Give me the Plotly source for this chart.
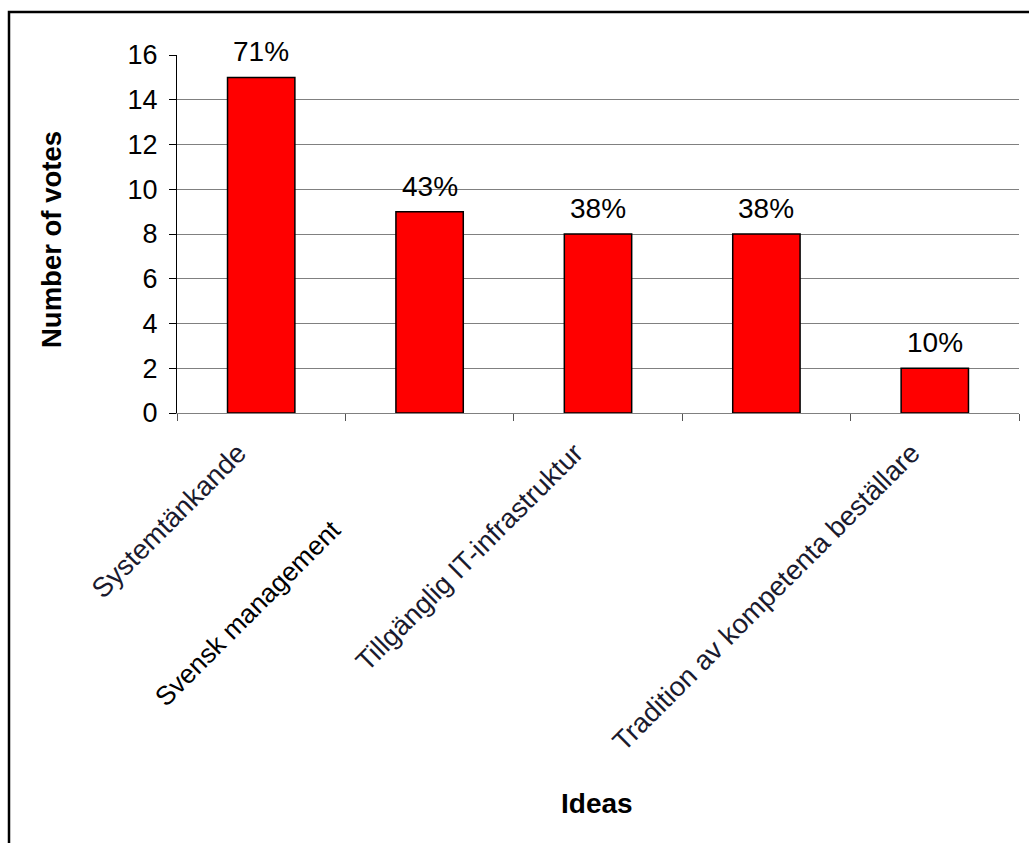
import plotly.graph_objects as go

categories = ["Systemtänkande", "Svensk management", "Tillgänglig IT-infrastruktur",
              "Idé 4", "Tradition av kompetenta beställare"]
votes = [15, 9, 8, 8, 2]
percent_labels = ["71%", "43%", "38%", "38%", "10%"]
tick_labels = ["Systemtänkande", "", "Tillgänglig IT-infrastruktur", "",
               "Tradition av kompetenta beställare"]
y_ticks = [0, 2, 4, 6, 8, 10, 12, 14, 16]

W, H = 1029, 843
L, R, T, B = 177, 10, 55, 430
pw, ph = W - L - R, H - T - B

def px(x):
    return (x - L) / pw

def py(y):
    return (H - B - y) / ph

FONT = "Liberation Sans, Arial, sans-serif"

fig = go.Figure()
fig.add_trace(go.Bar(
    x=categories, y=votes,
    marker=dict(color="#FF0000", line=dict(color="black", width=1.5)),
    hoverinfo="skip",
))

annotations = []
for c, v, t in zip(categories, votes, percent_labels):
    annotations.append(dict(x=c, y=v, xref="x", yref="y", text=t, showarrow=False,
                            yanchor="bottom", yshift=8,
                            font=dict(family=FONT, size=28, color="black")))

annotations.append(dict(x=px(52), y=py(240), xref="paper", yref="paper",
                        xanchor="center", yanchor="middle",
                        text="<b>Number of votes</b>", textangle=-90, showarrow=False,
                        font=dict(family=FONT, size=27.5, color="black")))
annotations.append(dict(x=px(597), y=py(803), xref="paper", yref="paper",
                        xanchor="center", yanchor="middle",
                        text="<b>Ideas</b>", showarrow=False,
                        font=dict(family=FONT, size=28, color="black")))
annotations.append(dict(x=px(248), y=py(613), xref="paper", yref="paper",
                        xanchor="center", yanchor="middle",
                        text="Svensk management", textangle=-45, showarrow=False,
                        font=dict(family=FONT, size=26.5, color="black")))

fig.update_layout(
    width=W, height=H,
    margin=dict(l=L, r=R, t=T, b=B),
    paper_bgcolor="white", plot_bgcolor="white",
    showlegend=False,
    bargap=0.6,
    font=dict(family=FONT, size=26, color="black"),
    annotations=annotations,
    shapes=[dict(type="rect", xref="paper", yref="paper",
                 x0=px(9), x1=px(1045), y0=py(870), y1=py(12),
                 line=dict(color="black", width=2.5), fillcolor="rgba(0,0,0,0)")],
)

fig.update_xaxes(
    type="category",
    tickmode="array", tickvals=categories, ticktext=tick_labels,
    tickangle=-45, tickson="boundaries", ticks="outside", ticklen=7,
    tickcolor="#555", showline=True, linecolor="#808080", linewidth=1,
    showgrid=False, tickfont=dict(family=FONT, size=27.5, color="#1a1a2e"),
    ticklabelstandoff=12, ticklabelshift=-23,
    range=[-0.5, 4.5],
)
fig.update_yaxes(
    range=[0, 16], tickvals=y_ticks, ticks="outside", ticklen=7, tickcolor="black",
    showline=True, linecolor="black", linewidth=1,
    showgrid=True, gridcolor="#808080", gridwidth=1, zeroline=False,
    tickfont=dict(family=FONT, size=27, color="black"),
    ticklabelstandoff=6,
)

fig.write_html("out.html")
